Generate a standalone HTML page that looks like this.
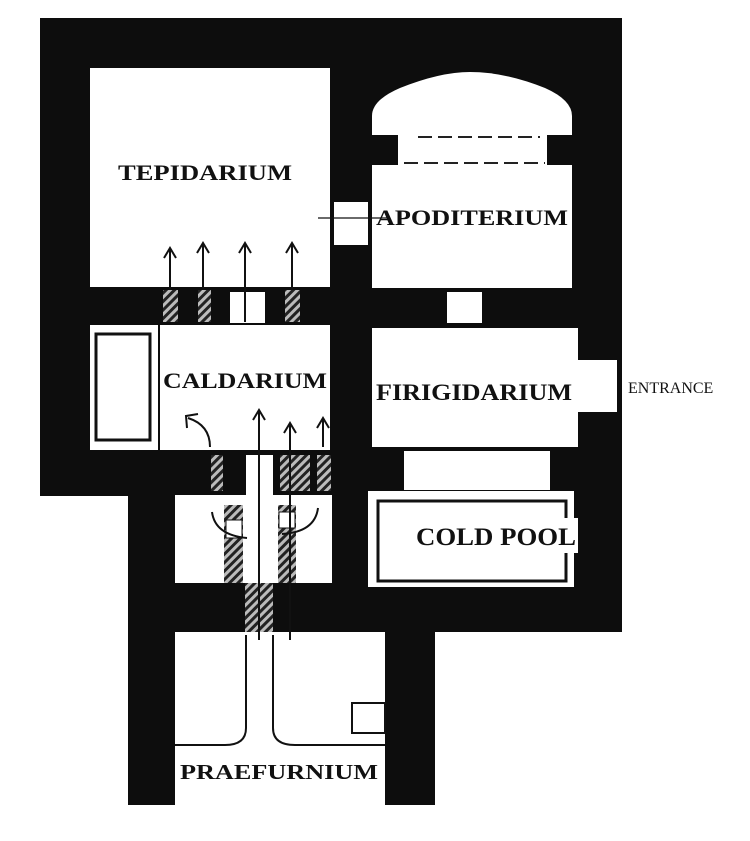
<!DOCTYPE html>
<html><head><meta charset="utf-8"><style>
html,body{margin:0;padding:0;background:#fff;}
svg{display:block;}
.t{font-family:"Liberation Serif",serif;font-weight:bold;fill:#111;}
</style></head><body>
<svg width="750" height="841" viewBox="0 0 750 841" xmlns="http://www.w3.org/2000/svg">
<defs>
<pattern id="h" width="6" height="6" patternUnits="userSpaceOnUse" patternTransform="rotate(45)">
<rect width="6" height="6" fill="#222"/><rect width="3" height="6" fill="#bbb"/>
</pattern>
</defs>
<rect x="40" y="18" width="582" height="478" fill="#0d0d0d"/>
<rect x="128" y="480" width="494" height="152" fill="#0d0d0d"/>
<rect x="128" y="600" width="47" height="205" fill="#0d0d0d"/>
<rect x="385" y="600" width="50" height="205" fill="#0d0d0d"/>

<rect x="90" y="68" width="240" height="219" fill="#fff"/>
<path d="M372 116 Q372 100 400 88 Q440 72 470 72 Q505 72 545 88 Q572 100 572 116 L572 288 L372 288 Z" fill="#fff"/>
<rect x="372" y="135" width="26" height="30" fill="#0d0d0d"/>
<rect x="547" y="135" width="25" height="30" fill="#0d0d0d"/>
<line x1="418" y1="137" x2="540" y2="137" stroke="#222" stroke-width="2" stroke-dasharray="14 6"/>
<line x1="404" y1="163" x2="545" y2="163" stroke="#222" stroke-width="2" stroke-dasharray="14 6"/>
<rect x="334" y="202" width="34" height="43" fill="#fff"/>
<line x1="318" y1="218" x2="390" y2="218" stroke="#111" stroke-width="1.2"/>
<rect x="447" y="292" width="35" height="31" fill="#fff"/>
<rect x="230" y="292" width="35" height="31" fill="#fff"/>
<rect x="163" y="290" width="15" height="32" fill="url(#h)"/>
<rect x="198" y="290" width="13" height="32" fill="url(#h)"/>
<rect x="285" y="290" width="15" height="32" fill="url(#h)"/>
<rect x="160" y="325" width="170" height="125" fill="#fff"/>
<rect x="90" y="325" width="68" height="125" fill="#fff"/>
<rect x="96" y="334" width="54" height="106" fill="none" stroke="#111" stroke-width="3"/>
<rect x="372" y="328" width="206" height="119" fill="#fff"/>
<rect x="578" y="360" width="39" height="52" fill="#fff"/>
<rect x="404" y="451" width="146" height="39" fill="#fff"/>
<rect x="368" y="491" width="206" height="96" fill="#fff"/>
<rect x="378" y="501" width="188" height="80" fill="none" stroke="#111" stroke-width="3"/>
<rect x="413" y="518" width="165" height="35" fill="#fff"/>
<rect x="246" y="455" width="27" height="40" fill="#fff"/>
<rect x="317" y="455" width="14" height="36" fill="url(#h)"/>
<rect x="280" y="455" width="30" height="36" fill="url(#h)"/>
<rect x="211" y="455" width="12" height="36" fill="url(#h)"/>
<rect x="175" y="495" width="157" height="88" fill="#fff"/>
<rect x="224" y="505" width="19" height="78" fill="url(#h)"/>
<rect x="278" y="505" width="18" height="78" fill="url(#h)"/>
<rect x="226" y="520" width="16" height="18" fill="#fff" stroke="#111" stroke-width="1"/>
<rect x="279" y="512" width="16" height="16" fill="#fff" stroke="#111" stroke-width="1"/>
<rect x="245" y="583" width="28" height="50" fill="url(#h)"/>
<rect x="175" y="632" width="210" height="168" fill="#fff"/>
<path d="M246 635 V728 Q246 745 225 745 H175" fill="none" stroke="#111" stroke-width="2"/>
<path d="M273 635 V728 Q273 745 295 745 H385" fill="none" stroke="#111" stroke-width="2"/>
<rect x="352" y="703" width="33" height="30" fill="#fff" stroke="#111" stroke-width="2"/>
<g fill="none" stroke="#111" stroke-width="2">
<path d="M170 290 V250 M164 258 L170 248 L176 258"/>
<path d="M203 290 V245 M197 253 L203 243 L209 253"/>
<path d="M245 322 V245 M239 253 L245 243 L251 253"/>
<path d="M292 290 V245 M286 253 L292 243 L298 253"/>
<path d="M210 447 Q210 425 188 418 M187 428 L186 416 L198 414"/>
<path d="M259 640 V412 M253 420 L259 410 L265 420"/>
<path d="M290 640 V425 M284 433 L290 423 L296 433"/>
<path d="M323 447 V420 M317 428 L323 418 L329 428"/>
<path d="M212 512 Q215 535 247 538"/>
<path d="M318 508 Q315 532 282 534"/>
</g>
<text class="t" x="118" y="180" font-size="22" textLength="174" lengthAdjust="spacingAndGlyphs">TEPIDARIUM</text>
<text class="t" x="376" y="225" font-size="22" textLength="192" lengthAdjust="spacingAndGlyphs">APODITERIUM</text>
<text class="t" x="163" y="388" font-size="22" textLength="164" lengthAdjust="spacingAndGlyphs">CALDARIUM</text>
<text class="t" x="376" y="400" font-size="23" textLength="196" lengthAdjust="spacingAndGlyphs">FIRIGIDARIUM</text>
<text class="t" x="416" y="545" font-size="25" textLength="160" lengthAdjust="spacingAndGlyphs">COLD POOL</text>
<text class="t" x="180" y="779" font-size="21" textLength="198" lengthAdjust="spacingAndGlyphs">PRAEFURNIUM</text>
<text x="628" y="393" font-family="Liberation Serif,serif" font-size="16" fill="#111">ENTRANCE</text>
</svg>
</body></html>
